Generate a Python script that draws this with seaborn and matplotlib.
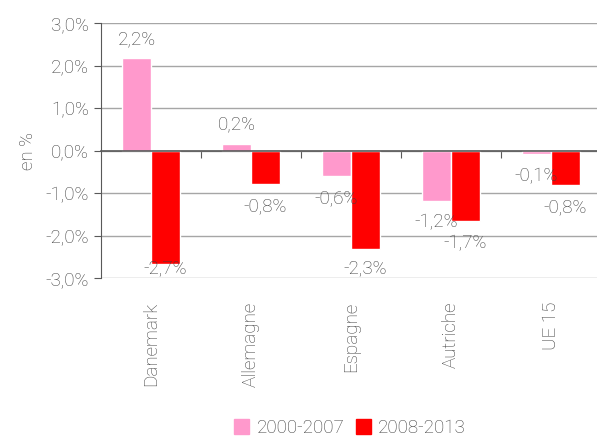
import pandas as pd
import seaborn as sns
import matplotlib.pyplot as plt
from matplotlib.ticker import FuncFormatter

# values (en %)
pays = ['Danemark', 'Allemagne', 'Espagne', 'Autriche', 'UE 15']
p_2000_2007 = [2.17, 0.16, -0.60, -1.18, -0.09]
p_2008_2013 = [-2.68, -0.78, -2.32, -1.66, -0.82]
periodes = ['2000-2007', '2008-2013']
couleurs = ['#FF99CC', '#FF0000']

df = pd.DataFrame({
    'pays': pays * 2,
    'periode': [periodes[0]] * 5 + [periodes[1]] * 5,
    'valeur': p_2000_2007 + p_2008_2013,
})

sns.set_style('white')
plt.rcParams['font.family'] = ['Roboto', 'DejaVu Sans']
plt.rcParams['font.weight'] = 'light'
txt = '#404040'
fs = 13.5

fig = plt.figure(figsize=(5.97, 4.37), dpi=100)
ax = fig.add_axes([101 / 597, 1 - 278 / 437, 500 / 597, 255 / 437])

sns.barplot(data=df, x='pays', y='valeur', hue='periode', palette=couleurs,
            width=0.58, gap=0, ax=ax, saturation=1, legend=True)

ax.set_xlim(-0.5, 4.5)
ax.set_ylim(-3, 3)
ax.set_yticks(range(-3, 4))
ax.yaxis.set_major_formatter(FuncFormatter(lambda v, _: f'{v:.1f}%'.replace('.', ',')))
ax.grid(axis='y', color='#a6a6a6', lw=1)
ax.set_axisbelow(True)
for s in ['top', 'right']:
    ax.spines[s].set_visible(False)
ax.spines['left'].set_color('#595959')
ax.spines['bottom'].set_position(('data', 0))
ax.spines['bottom'].set_color('#595959')
ax.spines['bottom'].set_linewidth(1.2)
ax.set_xticks([0.5, 1.5, 2.5, 3.5])
ax.set_xticklabels([])
ax.tick_params(axis='x', direction='out', length=5, color='#595959', bottom=True)
ax.tick_params(axis='y', length=5, color='#595959', labelsize=fs, labelcolor=txt, left=True)
ax.set_xlabel('')
ax.set_ylabel('en %', fontsize=fs, color=txt, labelpad=6, fontweight='light')

sec = ax.secondary_xaxis('bottom')
sec.set_xticks(range(len(pays)))
sec.set_xticklabels(pays, rotation=90, fontsize=fs, color=txt)
sec.tick_params(length=0, pad=17)
sec.spines['bottom'].set_visible(False)

# data labels, Excel "outside end" style
for cont in ax.containers:
    for bar, v in zip(cont, cont.datavalues):
        if v >= 0:
            y = v + 0.45
        else:
            y = max(v - 0.52, -2.78)
        ax.text(bar.get_x() + bar.get_width() / 2, y, f'{v:.1f}%'.replace('.', ','),
                ha='center', va='center', fontsize=fs, color=txt)

ax.legend_.remove()
handles = [plt.Rectangle((0, 0), 1, 1, color=c) for c in couleurs]
fig.legend(handles, periodes, loc='center', bbox_to_anchor=(350 / 597, 1 - 428 / 437),
           ncol=2, frameon=False, fontsize=fs, labelcolor=txt, handlelength=0.8,
           handleheight=0.8, handletextpad=0.4, columnspacing=0.6)

fig.savefig('out.png', dpi=100)
